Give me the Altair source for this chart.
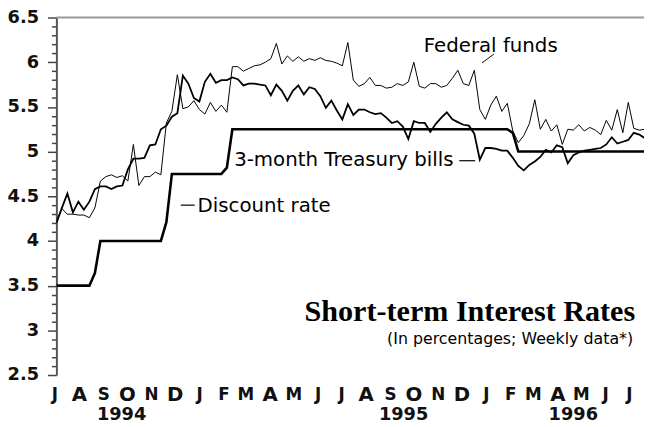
import altair as alt
import pandas as pd

# ---------------- data (weekly averages, week ending Wednesday) ----------------
start_date = "1994-06-29"
n_weeks = 108
week_dates = [d.strftime("%Y-%m-%d") for d in pd.date_range(start_date, periods=n_weeks, freq="7D")]

fed_funds = [
    4.22, 4.36, 4.30, 4.30, 4.29, 4.29, 4.26, 4.37, 4.67, 4.72,
    4.74, 4.71, 4.73, 4.67, 5.08, 4.62, 4.72, 4.72, 4.77, 4.74,
    5.32, 5.45, 5.86, 5.48, 5.50, 5.57, 5.47, 5.42, 5.55, 5.45,
    5.52, 5.44, 5.95, 5.95, 5.90, 5.93, 5.96, 5.97, 6.00, 6.04,
    6.21, 5.98, 6.07, 6.01, 6.06, 6.01, 6.04, 6.02, 6.05, 6.02,
    6.01, 5.99, 5.96, 6.22, 5.80, 5.73, 5.76, 5.83, 5.74, 5.74,
    5.71, 5.72, 5.76, 5.74, 5.78, 6.00, 5.73, 5.71, 5.76, 5.76,
    5.72, 5.74, 5.82, 5.91, 5.76, 5.74, 5.91, 5.47, 5.36, 5.52,
    5.62, 5.45, 5.54, 5.23, 5.10, 5.18, 5.31, 5.58, 5.25, 5.36,
    5.23, 5.30, 5.08, 5.25, 5.24, 5.30, 5.23, 5.27, 5.24, 5.19,
    5.35, 5.24, 5.47, 5.21, 5.55, 5.26, 5.24, 5.25,
]

tbills = [
    4.20, 4.37, 4.53, 4.32, 4.44, 4.35, 4.44, 4.58, 4.61, 4.61,
    4.58, 4.61, 4.62, 4.80, 4.92, 4.92, 4.93, 5.07, 5.08, 5.25,
    5.29, 5.39, 5.43, 5.85, 5.76, 5.60, 5.56, 5.78, 5.87, 5.77,
    5.80, 5.80, 5.83, 5.81, 5.74, 5.76, 5.76, 5.75, 5.74, 5.63,
    5.75, 5.68, 5.57, 5.68, 5.74, 5.64, 5.72, 5.70, 5.62, 5.49,
    5.57, 5.46, 5.36, 5.53, 5.41, 5.47, 5.47, 5.44, 5.42, 5.43,
    5.38, 5.32, 5.34, 5.28, 5.14, 5.34, 5.32, 5.32, 5.22, 5.31,
    5.38, 5.44, 5.36, 5.33, 5.30, 5.29, 5.20, 4.91, 5.04, 5.04,
    5.03, 5.01, 5.01, 4.93, 4.84, 4.79, 4.85, 4.89, 4.94, 5.02,
    4.99, 5.07, 5.05, 4.87, 4.96, 4.99, 5.01, 5.02, 5.03, 5.04,
    5.08, 5.16, 5.09, 5.11, 5.13, 5.21, 5.19, 5.15,
]

discount = [
    3.50, 3.50, 3.50, 3.50, 3.50, 3.50, 3.50, 3.64, 4.00, 4.00,
    4.00, 4.00, 4.00, 4.00, 4.00, 4.00, 4.00, 4.00, 4.00, 4.00,
    4.21, 4.75, 4.75, 4.75, 4.75, 4.75, 4.75, 4.75, 4.75, 4.75,
    4.75, 4.82, 5.25, 5.25, 5.25, 5.25, 5.25, 5.25, 5.25, 5.25,
    5.25, 5.25, 5.25, 5.25, 5.25, 5.25, 5.25, 5.25, 5.25, 5.25,
    5.25, 5.25, 5.25, 5.25, 5.25, 5.25, 5.25, 5.25, 5.25, 5.25,
    5.25, 5.25, 5.25, 5.25, 5.25, 5.25, 5.25, 5.25, 5.25, 5.25,
    5.25, 5.25, 5.25, 5.25, 5.25, 5.25, 5.25, 5.25, 5.25, 5.25,
    5.25, 5.25, 5.25, 5.21, 5.00, 5.00, 5.00, 5.00, 5.00, 5.00,
    5.00, 5.00, 5.00, 5.00, 5.00, 5.00, 5.00, 5.00, 5.00, 5.00,
    5.00, 5.00, 5.00, 5.00, 5.00, 5.00, 5.00, 5.00,
]

series_names = ["Federal funds", "3-month Treasury bills", "Discount rate"]

month_letters = ["J", "A", "S", "O", "N", "D",
                 "J", "F", "M", "A", "M", "J", "J", "A", "S", "O", "N", "D",
                 "J", "F", "M", "A", "M", "J", "J"]
month_dates = [d.strftime("%Y-%m-%d") for d in pd.date_range("1994-07-01", periods=25, freq="MS")]

year_labels = ["1994", "1995", "1996"]
year_dates = ["1994-09-20", "1995-09-14", "1996-04-17"]

y_ticks = [round(2.5 + 0.1 * i, 1) for i in range(41)]

# ---------------- tables ----------------
lines_df = pd.DataFrame({
    "date": week_dates * 3,
    "series": [series_names[0]] * n_weeks + [series_names[1]] * n_weeks + [series_names[2]] * n_weeks,
    "value": fed_funds + tbills + discount,
})
months_df = pd.DataFrame({"date": month_dates, "letter": month_letters})
years_df = pd.DataFrame({"date": year_dates, "year": year_labels})

W, H = 595, 362
x_scale = alt.Scale(type="utc",
                    domain=[alt.DateTime(year=1994, month=6, date=29, utc=True),
                            alt.DateTime(year=1996, month=7, date=16, utc=True)])
week_ms = [int(pd.Timestamp(d, tz="UTC").timestamp() * 1000) for d in week_dates]

x_axis = alt.Axis(values=week_ms, labels=False, grid=False, tickSize=7, tickWidth=1,
                  tickColor="#222", domainColor="#222", domainWidth=1, title=None)
major = "abs(datum.value * 2 - round(datum.value * 2)) < 0.001"
y_axis = alt.Axis(values=y_ticks, format=".1~f",
                  labelExpr=f"{major} ? datum.label : ''",
                  tickSize={"condition": {"test": major, "value": 9}, "value": 5},
                  tickWidth=1.5, tickColor="#444", domainColor="#555", domainWidth=2,
                  grid=False, labelFont="DejaVu Sans", labelFontWeight="bold",
                  labelFontSize=18, labelColor="#111", labelPadding=9, title=None)

lines = alt.Chart(lines_df).mark_line(clip=True, color="black").encode(
    x=alt.X("date:T", scale=x_scale, axis=x_axis),
    y=alt.Y("value:Q", scale=alt.Scale(domain=[2.5, 6.5], nice=False, zero=False), axis=y_axis),
    detail="series:N",
    strokeWidth=alt.StrokeWidth("series:N",
                                scale=alt.Scale(domain=series_names, range=[1.0, 2.6, 2.6]),
                                legend=None),
)

months = alt.Chart(months_df).mark_text(font="DejaVu Sans", fontWeight="bold", baseline="middle",
                                        align="center", dx=-3, color="#111").encode(
    x=alt.X("date:T", axis=None),
    y=alt.value(H + 20.5),
    text="letter:N",
    size=alt.condition("indexof([3, 7, 9, 11], utcmonth(datum.date)) >= 0",
                       alt.value(20), alt.value(17)),
)

years = alt.Chart(years_df).mark_text(font="DejaVu Sans", fontWeight="bold", fontSize=18,
                                      baseline="middle", align="center", color="#111").encode(
    x=alt.X("date:T", axis=None),
    y=alt.value(H + 40.5),
    text="year:N",
)


def label(txt, x, y, align="left", baseline="middle", font="DejaVu Sans", size=20, weight="normal"):
    return alt.Chart(alt.Data(values=[{"t": txt}])).mark_text(
        font=font, fontSize=size, fontWeight=weight, align=align, baseline=baseline, color="black"
    ).encode(x=alt.value(x), y=alt.value(y), text="t:N")


def seg(x1, x2, y1, y2, color="black", width=1.0):
    return alt.Chart(alt.Data(values=[{}])).mark_rule(color=color, strokeWidth=width).encode(
        x=alt.value(x1), x2=alt.value(x2), y=alt.value(y1), y2=alt.value(y2))


title = label("Short-term Interest Rates", 586, 307, align="right", baseline="alphabetic",
              font="Liberation Serif", size=30.5, weight="bold")
subtitle = label("(In percentages; Weekly data*)", 584, 331, align="right", baseline="alphabetic",
                 size=16)
ff_label = label("Federal funds", 372, 28.5)
tb_label = label("3-month Treasury bills", 180, 144)
dr_label = label("Discount rate", 143, 191)

top_border = seg(0, W, 0, 0, color="#999", width=2)
ff_ptr = seg(443, 431, 37, 46)
tb_dash = seg(408, 424, 145, 145, width=1.2)
dr_dash = seg(126, 140, 190, 190, width=1.2)

chart = alt.layer(
    lines, months, years, title, subtitle, ff_label, tb_label, dr_label,
    top_border, ff_ptr, tb_dash, dr_dash,
).properties(
    width=W, height=H,
    autosize=alt.AutoSizeParams(type="none"),
    padding={"left": 49, "top": 7, "right": 0, "bottom": 50},
    background="white",
).configure_view(strokeWidth=0)

chart.save("out.html", embed_options={"renderer": "svg", "actions": False})
